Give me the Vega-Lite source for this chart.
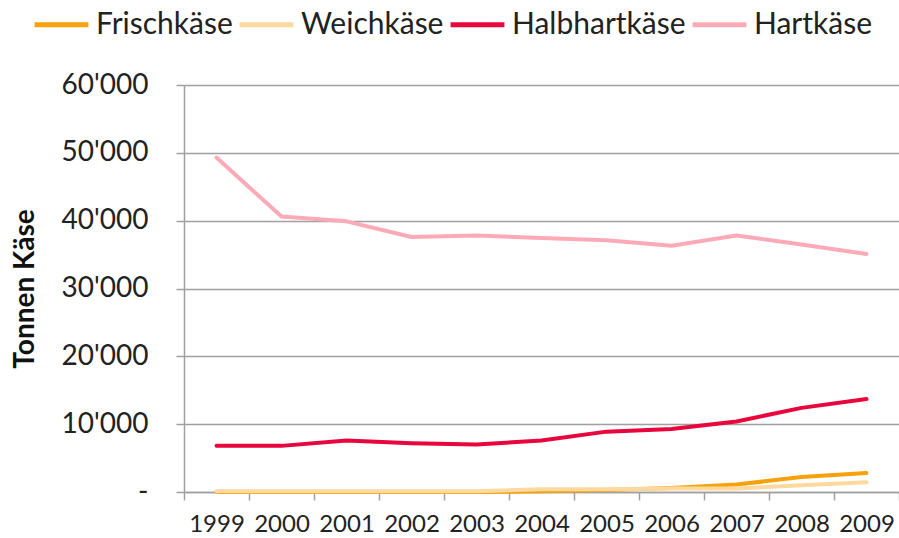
{
  "$schema": "https://vega.github.io/schema/vega-lite/v6.json",
  "width": 715,
  "height": 407,
  "autosize": "none",
  "padding": {"left": 184, "top": 85, "right": 0, "bottom": 46},
  "background": "white",
  "config": {
    "font": "Lato",
    "view": {"stroke": null}
  },
  "data": {
    "values": [
      {"year": "1999", "type": "Frischkäse", "value": 0},
      {"year": "2000", "type": "Frischkäse", "value": 0},
      {"year": "2001", "type": "Frischkäse", "value": 0},
      {"year": "2002", "type": "Frischkäse", "value": 0},
      {"year": "2003", "type": "Frischkäse", "value": 0},
      {"year": "2004", "type": "Frischkäse", "value": 100},
      {"year": "2005", "type": "Frischkäse", "value": 300},
      {"year": "2006", "type": "Frischkäse", "value": 600},
      {"year": "2007", "type": "Frischkäse", "value": 1100},
      {"year": "2008", "type": "Frischkäse", "value": 2200},
      {"year": "2009", "type": "Frischkäse", "value": 2800},
      {"year": "1999", "type": "Weichkäse", "value": 100},
      {"year": "2000", "type": "Weichkäse", "value": 100},
      {"year": "2001", "type": "Weichkäse", "value": 100},
      {"year": "2002", "type": "Weichkäse", "value": 100},
      {"year": "2003", "type": "Weichkäse", "value": 100},
      {"year": "2004", "type": "Weichkäse", "value": 400},
      {"year": "2005", "type": "Weichkäse", "value": 400},
      {"year": "2006", "type": "Weichkäse", "value": 500},
      {"year": "2007", "type": "Weichkäse", "value": 500},
      {"year": "2008", "type": "Weichkäse", "value": 1000},
      {"year": "2009", "type": "Weichkäse", "value": 1450},
      {"year": "1999", "type": "Halbhartkäse", "value": 6800},
      {"year": "2000", "type": "Halbhartkäse", "value": 6800},
      {"year": "2001", "type": "Halbhartkäse", "value": 7600},
      {"year": "2002", "type": "Halbhartkäse", "value": 7200},
      {"year": "2003", "type": "Halbhartkäse", "value": 7000},
      {"year": "2004", "type": "Halbhartkäse", "value": 7600},
      {"year": "2005", "type": "Halbhartkäse", "value": 8900},
      {"year": "2006", "type": "Halbhartkäse", "value": 9300},
      {"year": "2007", "type": "Halbhartkäse", "value": 10400},
      {"year": "2008", "type": "Halbhartkäse", "value": 12400},
      {"year": "2009", "type": "Halbhartkäse", "value": 13700},
      {"year": "1999", "type": "Hartkäse", "value": 49300},
      {"year": "2000", "type": "Hartkäse", "value": 40600},
      {"year": "2001", "type": "Hartkäse", "value": 39900},
      {"year": "2002", "type": "Hartkäse", "value": 37600},
      {"year": "2003", "type": "Hartkäse", "value": 37800},
      {"year": "2004", "type": "Hartkäse", "value": 37450},
      {"year": "2005", "type": "Hartkäse", "value": 37100},
      {"year": "2006", "type": "Hartkäse", "value": 36300},
      {"year": "2007", "type": "Hartkäse", "value": 37800},
      {"year": "2008", "type": "Hartkäse", "value": 36500},
      {"year": "2009", "type": "Hartkäse", "value": 35100}
    ]
  },
  "mark": {"type": "line", "strokeWidth": 4, "strokeCap": "round", "strokeJoin": "round"},
  "encoding": {
    "x": {
      "field": "year",
      "type": "ordinal",
      "scale": {"type": "band", "paddingInner": 0, "paddingOuter": 0},
      "axis": {
        "title": null,
        "tickBand": "extent",
        "labelAngle": 0,
        "labelFontSize": 24,
        "labelColor": "#222222",
        "labelPadding": 12,
        "tickSize": 8,
        "tickColor": "#a0a0a0",
        "tickWidth": 1.5,
        "domainColor": "#a0a0a0",
        "domainWidth": 1.5,
        "grid": false
      }
    },
    "y": {
      "field": "value",
      "type": "quantitative",
      "scale": {"domain": [0, 60000], "nice": false},
      "axis": {
        "title": "Tonnen Käse",
        "titleFontSize": 28,
        "titleFontWeight": "bold",
        "titleColor": "#111111",
        "titlePadding": 22,
        "values": [0, 10000, 20000, 30000, 40000, 50000, 60000],
        "labelExpr": "datum.value == 0 ? '-' : replace(format(datum.value, ','), ',', \"'\")",
        "labelFontSize": 28,
        "labelColor": "#222222",
        "labelPadding": 28,
        "tickSize": 8,
        "tickColor": "#a0a0a0",
        "tickWidth": 1.5,
        "domainColor": "#a0a0a0",
        "domainWidth": 1.5,
        "grid": true,
        "gridColor": "#a0a0a0",
        "gridWidth": 1.5
      }
    },
    "color": {
      "field": "type",
      "type": "nominal",
      "scale": {
        "domain": ["Frischkäse", "Weichkäse", "Halbhartkäse", "Hartkäse"],
        "range": ["#f7a20c", "#fdd9a0", "#e8063c", "#fdaab8"]
      },
      "legend": {
        "title": null,
        "orient": "none",
        "direction": "horizontal",
        "legendX": -152,
        "legendY": -90,
        "symbolType": "stroke",
        "symbolSize": 2900,
        "symbolStrokeWidth": 5,
        "labelFontSize": 30,
        "labelColor": "#222222",
        "labelOffset": 5,
        "labelLimit": 400,
        "columnPadding": -4
      }
    }
  }
}
